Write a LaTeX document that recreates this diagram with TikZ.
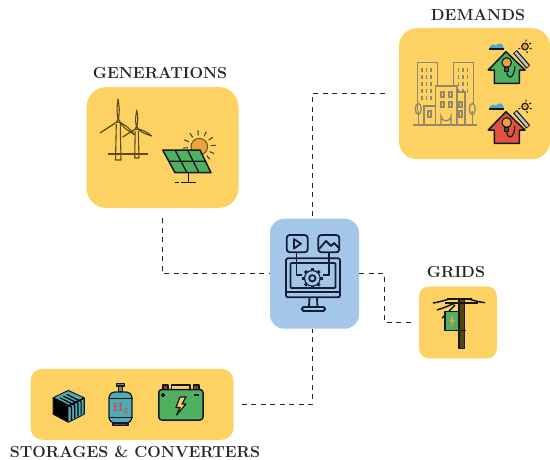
\documentclass[tikz,border=0pt]{standalone}
\usetikzlibrary{calc}
\definecolor{panelyellow}{HTML}{FDD262}
\definecolor{panelblue}{HTML}{A4C6E9}
\definecolor{icondark}{HTML}{14171F}
\definecolor{navy}{HTML}{141E36}
\definecolor{leaf}{HTML}{4FB060}
\definecolor{roofred}{HTML}{E2533F}
\definecolor{sunorange}{HTML}{E9A33C}
\definecolor{stonegrey}{HTML}{908868}
\definecolor{teal}{HTML}{4FAAB4}
\definecolor{olive}{HTML}{5C4C14}
\definecolor{cloudblue}{HTML}{45A9D8}
\tikzset{
	panel/.style={fill=panelyellow,inner sep=0pt},
	title/.style={font=\bfseries\fontsize{16}{17}\selectfont,text=black!85,inner sep=0pt},
	link/.style={draw=black!85,line width=1.2pt,dash pattern=on 5pt off 4.5pt},
	icon/.style={draw=icondark,line width=1.5pt,line join=round},
	stone/.style={draw=stonegrey,line width=1.3pt},
	mono/.style={draw=navy,line width=1.8pt,line join=round},
}
% one house with its lamp, roof panel, sun and cloud
\newcommand{\homeicon}[1]{
	\draw[icon,fill=#1] (506,51.7) -- (525,70) -- (519.3,70) -- (519.3,83.3) -- (494.3,83.3) -- (494.3,70) -- (488.3,70) -- cycle;
	\draw[icondark,line width=5pt] (515,51.7) -- (528.3,67);
	\draw[black!25,line width=2.6pt] (515.5,52.3) -- (527.8,66.4);
	\draw[icon,line width=1.1pt,fill=sunorange] (525,46.5) circle (3.3);
	\foreach \a in {20,70,-30,160,-80} \draw[icondark,line width=1pt] (525,46.5) ++(\a:5) -- ++(\a:2);
	\fill[cloudblue] (489,48.5) .. controls (491,43.5) and (494,44) .. (496,45.5) .. controls (499,42) and (503,43) .. (504,48.5) -- cycle;
	\draw[icondark,line width=1.1pt] (489,49) -- (504,49);
	\draw[icon,line width=1.1pt,fill=sunorange] (506.7,62.5) circle (4.8);
	\draw[icon,line width=1pt,fill=black!70] (504.7,67) rectangle (508.7,71);
	\draw[icon,line width=1.1pt] (506.7,71) .. controls (507,80) and (514,80) .. (515,66);
}
\begin{document}
\begin{tikzpicture}[x=1pt,y=-1pt]
	\useasboundingbox (0,0) rectangle (550,459);
	% boxes
	\node[panel,minimum width=152pt,minimum height=121pt,rounded corners=20pt] (gen) at (162.5,147.5) {};
	\node[panel,minimum width=151pt,minimum height=131pt,rounded corners=18pt] (dem) at (474.5,93.7) {};
	\node[panel,minimum width=78pt,minimum height=72pt,rounded corners=10pt] (grd) at (458,322.4) {};
	\node[panel,minimum width=203pt,minimum height=71pt,rounded corners=12pt] (sto) at (132,404.3) {};
	\node[fill=panelblue,inner sep=0pt,minimum width=89pt,minimum height=110pt,rounded corners=14pt] (ctr) at (314.5,273.7) {};
	% titles
	\node[title] (gentitle) at (160,73) {GENERATIONS};
	\node[title] (demtitle) at (478,15) {DEMANDS};
	\node[title] (grdtitle) at (456,272.5) {GRIDS};
	\node[title] (stotitle) at (135,451.5) {STORAGES \& CONVERTERS};
	% connectors
	\draw[link,shorten <=10pt,shorten >=1pt] (gen.south) |- (ctr.west);
	\draw[link,shorten <=14pt] (dem.west) -| ([xshift=-2pt]ctr.north);
	\draw[link,shorten >=8pt] (ctr.east) -- ++(25,0) |- (grd.west);
	\draw[link,shorten <=8pt] (sto.east) -| ([xshift=-2pt]ctr.south);
	% wind turbines
	\begin{scope}[draw=olive,line width=1.1pt,line join=round]
		\draw (108,154) -- (148,154);
		\draw (116.3,124) -- (115.5,160) -- (121,160) -- (120.3,124);
		\draw (135.2,131) -- (134.7,158) -- (139,158) -- (138.3,131);
		\foreach \hx/\hy/\bx/\by in {118.3/121/118/99,118.3/121/100/133,118.3/121/135/135,136.7/128.3/136.7/110,136.7/128.3/122.7/137,136.7/128.3/151.7/136}
			\draw[fill=panelyellow] (\hx,\hy) .. controls ($(\hx,\hy)!.5!(\bx,\by)+(1.5,-.8)$) .. (\bx,\by) .. controls ($(\hx,\hy)!.5!(\bx,\by)+(-1.5,.8)$) .. cycle;
		\draw[fill=panelyellow] (118.3,121) circle (1.6);
		\draw[fill=panelyellow] (136.7,128.3) circle (1.4);
	\end{scope}
	% sun and solar panel
	\draw[olive,fill=sunorange,line width=.9pt] (199.3,146.7) circle (8.3);
	\foreach \a in {-185,-155,-125,-95,-65,-35,-5,25,50}
		\draw[icondark!80,line width=1.1pt] (199.3,146.7) ++(\a:11.5) -- ++(\a:5);
	\draw[icon,fill=leaf] (162.7,150) -- (200,150) -- (211,172.7) -- (175,172.7) -- cycle;
	\draw[icondark,line width=1.3pt] (168.8,161.3) -- (205.5,161.3) (175,150) -- (187,172.7) (187.5,150) -- (199,172.7);
	\draw[icon] (188.3,172.7) -- (188.3,182.3) (175,182.3) -- (179,182.3) (181,182.3) -- (196,182.3);
	% buildings
	\begin{scope}[stone]
		\draw (417.3,111) -- (417.3,62.7) -- (437.3,62.7) -- (437.3,86);
		\draw (453.3,86) -- (453.3,62.7) -- (473.3,62.7) -- (473.3,105);
		\draw (435.7,125) -- (435.7,86) -- (457,86) -- (457,125);
		\draw (457,92) -- (465,92) -- (465,125);
		\draw (424,125) -- (424,106) -- (435.7,106);
		\draw (413.3,125) -- (476.7,125);
		\draw (441,125) -- (441,116) arc[start angle=180,end angle=0,radius=5] -- (451,125);
		\foreach \wx in {422,426.5,431}
			\foreach \wy in {68,75,82,89,96}
				\draw[line width=1.4pt] (\wx,\wy) -- (\wx,\wy+3.5);
		\foreach \wx in {458.5,463,467.5}
			\foreach \wy in {68,75,82,89}
				\draw[line width=1.4pt] (\wx,\wy) -- (\wx,\wy+3.5);
		\foreach \wx in {441,449}
			\foreach \wy in {92,102}
				\draw (\wx,\wy) rectangle (\wx+3,\wy+5);
		\draw (428,111) rectangle (431,117) (459,102) rectangle (462,107) (459,111) rectangle (462,117);
		\draw (418.3,125) -- (418.3,115) (472.3,125) -- (472.3,115);
		\draw (418.3,109) ellipse (3 and 5.5) (418.3,111) -- (418.3,115);
		\draw (472.3,109) ellipse (3 and 5.5) (472.3,111) -- (472.3,115);
	\end{scope}
	% houses
	\homeicon{leaf}
	\begin{scope}[shift={(0,60)}]
		\homeicon{roofred}
	\end{scope}
	% monitor
	\begin{scope}[mono]
		\draw[rounded corners=2pt] (286,258.3) rectangle (340,297.3);
		\draw[rounded corners=1pt] (290.5,263) rectangle (335.5,288);
		\draw (286,292) -- (340,292);
		\draw (309.5,297.3) -- (309,307) (317,297.3) -- (317.5,307);
		\draw[rounded corners=1.5pt] (302,307) rectangle (325,311);
		\draw[rounded corners=3pt,fill=panelblue] (286.7,235) rectangle (307.7,252.3);
		\draw[line join=round] (294,239) -- (301,243.7) -- (294,248.5) -- cycle;
		\draw[rounded corners=3pt,fill=panelblue] (318.3,235) rectangle (339.3,252.3);
		\draw (319,249) -- (326,241) -- (331,246) -- (334,243) -- (339,248);
		\draw (296.5,252.3) -- (296.5,275) -- (302,275);
		\draw (329,252.3) -- (329,275) -- (323,275);
		\draw[fill=panelblue] (312.3,278.3) circle (7.5);
		\foreach \a in {0,45,...,315}
			\draw[line width=3pt] (312.3,278.3) ++(\a:7.5) -- ++(\a:2.8);
		\draw[fill=panelblue,draw=panelblue] (312.3,278.3) circle (6.2);
		\draw (312.3,278.3) circle (3.2);
	\end{scope}
	% pole
	\draw[icon] (433,303) .. controls (440,302) and (445,300) .. (450,299) (485,302.7) .. controls (478,302) and (473,300) .. (468,299);
	\draw[icon] (437,310) .. controls (444,308) and (450,305) .. (455,303) (442,318) .. controls (446,315) and (450,310) .. (455,305);
	\draw[icon,fill=olive!90!black] (459,298.3) rectangle (464.5,348.3);
	\draw[icondark,line width=2.6pt] (447,299) -- (472,299);
	\draw[icondark,line width=2.2pt] (445,303) -- (478,303);
	\draw[icon,fill=leaf] (445,311.7) rectangle (458.3,330.7);
	\fill[sunorange] (452.5,315) -- (449.5,322) -- (452,322) -- (450.5,327) -- (455,320) -- (452.5,320) -- cycle;
	\draw[icondark,line width=1.4pt] (458.3,330.7) -- (466,330.7);
	% cube
	\draw[icon,fill=black] (53.3,398) -- (68.3,390.7) -- (84,398) -- (84,414) -- (68.3,422) -- (53.3,414) -- cycle;
	\fill[teal] (53.8,398) -- (68.3,391.2) -- (83.5,398) -- (83.5,414) -- (68.3,421.5) -- (68.3,406) -- cycle;
	\foreach \i in {0,1,2,3}
		\draw[black,line width=1.2pt] (56.5+3.5*\i,399.5-1.7*\i) -- (71.5+3.2*\i,407-1.8*\i) -- (71.5+3.2*\i,420-1.8*\i);
	\draw[black,line width=1.6pt] (53.3,398) -- (68.3,406) -- (84,398);
	\fill[red!70!black] (66,405.5) circle (1);
	% hydrogen bottle
	\draw[icon,line width=1.1pt,fill=olive!70] (116.5,383.5) rectangle (124.5,386);
	\draw[icon,line width=1.1pt,fill=olive!70] (118.5,386) rectangle (122.5,392);
	\draw[icon,line width=1.2pt,fill=teal,rounded corners=6pt] (109,392) rectangle (132,423);
	\draw[icondark,line width=1pt] (108.5,398) -- (132.5,398) (108.5,417) -- (132.5,417);
	\draw[icon,line width=1.1pt,fill=black!70] (113,423) rectangle (128,425.5);
	\node[text=roofred!90!black,font=\bfseries\fontsize{12}{12}\selectfont,inner sep=0pt] (hyd) at (120.5,408) {H$_{\mathbf{2}}$};
	% battery
	\draw[icon] (171.7,385) rectangle (190,389.5);
	\draw[icon,fill=roofred!70!black] (163,385) rectangle (168,389.5);
	\draw[icon,fill=roofred!70!black] (193.5,385) rectangle (199,389.5);
	\draw[icon,fill=leaf,rounded corners=3pt] (158.8,389.5) rectangle (203,420);
	\draw[icondark,line width=1.2pt] (163,393) -- (163,397) (161,395) -- (165,395) (194,395) -- (199,395);
	\draw[icon,line width=1.2pt,fill=panelyellow] (180,397) -- (176,407.5) -- (180,407.5) -- (176.5,415) -- (186,404) -- (182,404) -- (186,397) -- cycle;
\end{tikzpicture}
\end{document}
